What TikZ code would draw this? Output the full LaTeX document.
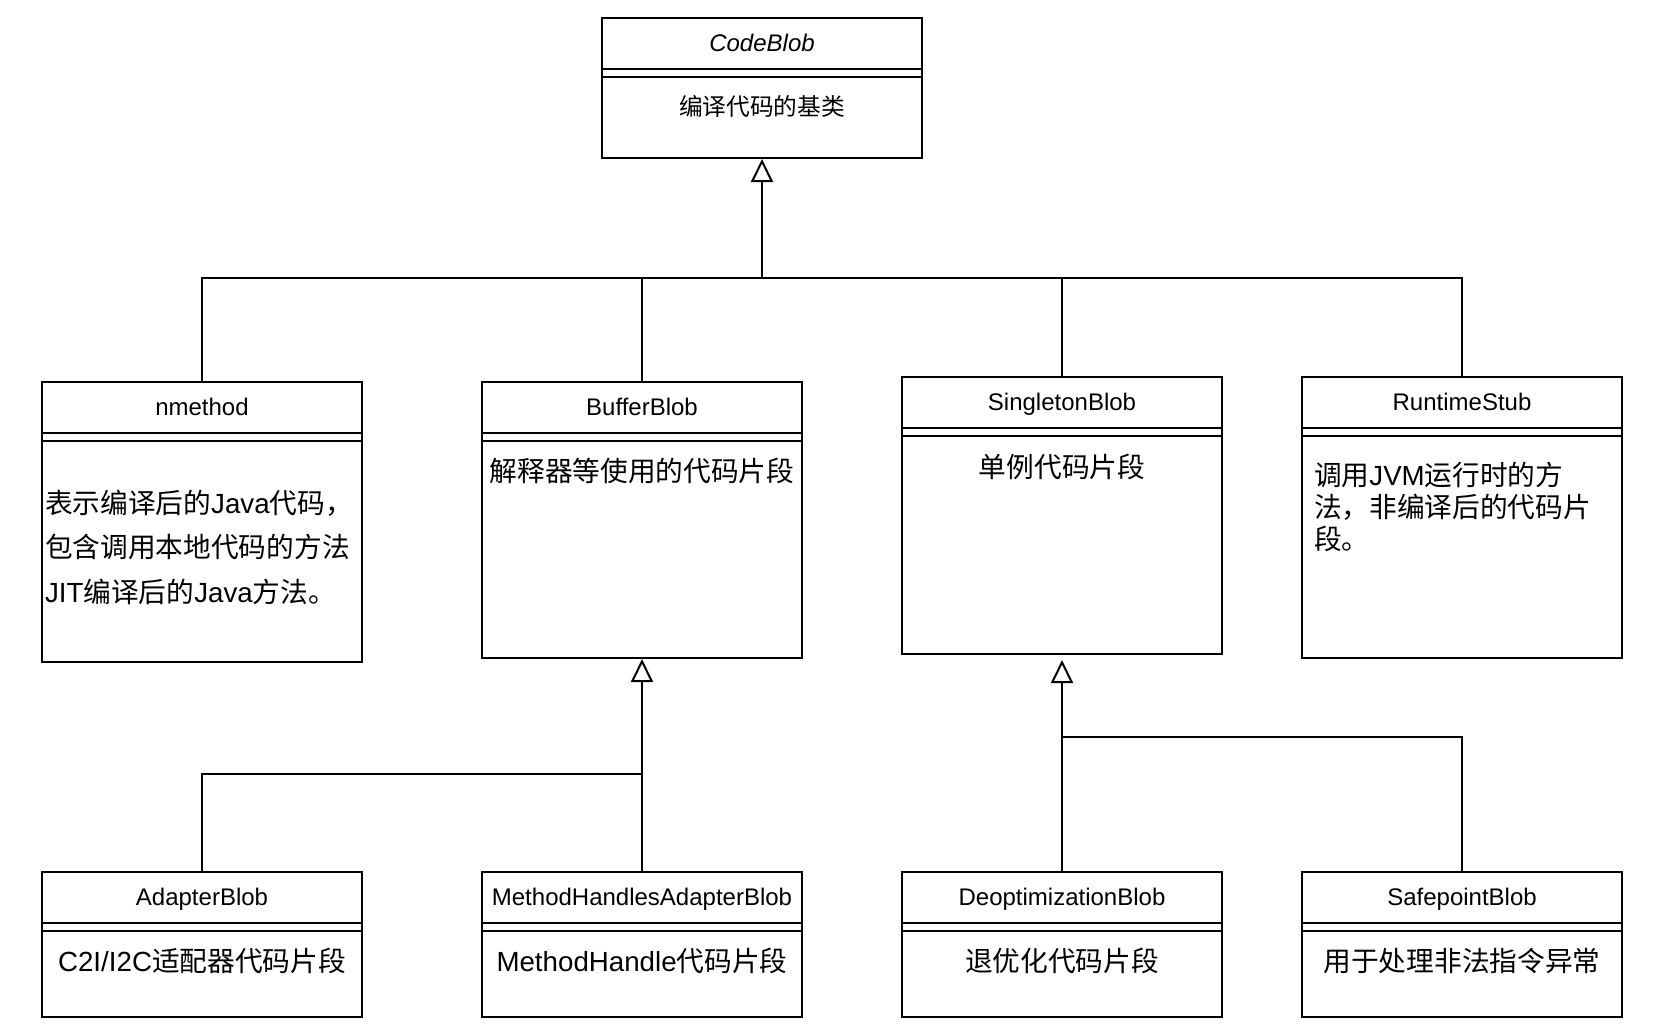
\documentclass[tikz,border=0pt]{standalone}
\usepackage{fontspec}
\setmainfont{Liberation Sans}
\newfontfamily\cjk{Noto Sans CJK SC}
\usetikzlibrary{arrows.meta}
\newcommand\umlbox[6]{% name, cx, top, bottom, title, height
  \node[box, minimum height=#6pt] (#1) at (#2,{(#3+#4)/2}) {};
  \draw ([yshift=-52pt]#1.north west) -- ([yshift=-52pt]#1.north east);
  \draw ([yshift=-60pt]#1.north west) -- ([yshift=-60pt]#1.north east);
  \node[ttl, anchor=base] (#1-t) at ([yshift=-34.5pt]#1.north) {#5};
}
\begin{document}
\begin{tikzpicture}[x=1pt,y=-1pt, line width=2pt,
  box/.style={draw, rectangle, minimum width=320pt, inner sep=0pt, line width=2pt},
  ttl/.style={font=\fontsize{24}{28}\selectfont, inner sep=0pt},
  bdy/.style={font=\fontsize{27.7}{32}\selectfont, inner sep=0pt},
  inh/.style={-{Triangle[open,width=22pt,length=23pt]}},
]
\fill[white] (0,0) rectangle (1680,1034);
\useasboundingbox (0,0) rectangle (1680,1034);

% top class
\umlbox{cb}{762}{18}{158}{\itshape CodeBlob}{140}
\node[inner sep=0pt, font=\fontsize{23.7}{28}\selectfont] (cbb) at (762,106) {\cjk 编译代码的基类};

% second row
\umlbox{nm}{202}{382}{662}{nmethod}{280}
\umlbox{bb}{642}{382}{658}{BufferBlob}{276}
\umlbox{sg}{1062}{377}{654}{SingletonBlob}{277}
\umlbox{rs}{1462}{377}{658}{RuntimeStub}{281}

\node[inner sep=0pt, anchor=west, align=left, font=\fontsize{27.7}{44.5}\selectfont] (nmb) at (44,547)
  {{\cjk 表示编译后的}Java{\cjk 代码，}\\{\cjk 包含调用本地代码的方法}\\JIT{\cjk 编译后的}Java{\cjk 方法。}};
\node[bdy] (bbb) at (642,471) {\cjk 解释器等使用的代码片段};
\node[bdy] (sgb) at (1062,467) {\cjk 单例代码片段};
\node[inner sep=0pt, anchor=west, align=left, font=\fontsize{27.7}{32.2}\selectfont] (rsb) at (1313,507)
  {{\cjk 调用}JVM{\cjk 运行时的方}\\{\cjk 法，非编译后的代码片}\\{\cjk 段。}};

% third row
\umlbox{ad}{202}{872}{1017}{AdapterBlob}{145}
\umlbox{mh}{642}{872}{1017}{MethodHandlesAdapterBlob}{145}
\umlbox{de}{1062}{872}{1017}{DeoptimizationBlob}{145}
\umlbox{sp}{1462}{872}{1017}{SafepointBlob}{145}

\node[bdy] (adb) at (202,961) {C2I/I2C{\cjk 适配器代码片段}};
\node[bdy] (mhb) at (642,961) {MethodHandle{\cjk 代码片段}};
\node[bdy] (deb) at (1062,961) {\cjk 退优化代码片段};
\node[bdy] (spb) at (1462,961) {\cjk 用于处理非法指令异常};

% connectors
\coordinate (j1) at (762,277.5);
\draw[inh] (j1) -- (cb.south);
\draw (nm.north) |- (j1);
\draw (bb.north) |- (j1);
\draw (sg.north) |- (j1);
\draw (rs.north) |- (j1);

\coordinate (j2) at (642,773.6);
\draw[inh] (mh.north) -- (bb.south);
\draw (ad.north) |- (j2);

\coordinate (j3) at (1062,737);
\draw[inh, shorten >=5pt] (de.north) -- (sg.south);
\draw (sp.north) |- (j3);
\end{tikzpicture}
\end{document}
